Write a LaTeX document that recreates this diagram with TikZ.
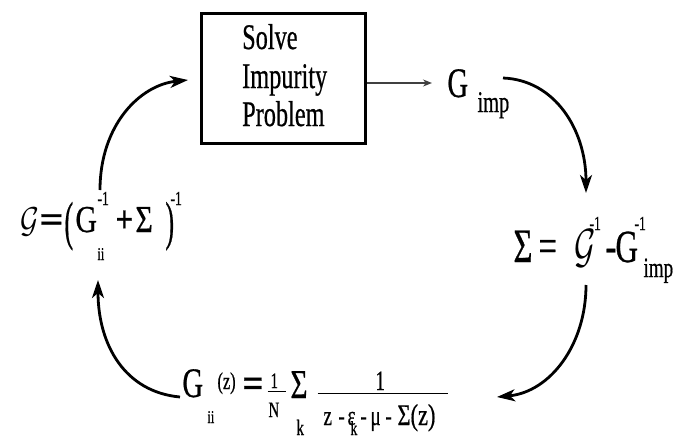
\documentclass[tikz,border=0pt]{standalone}
\usepackage{fontspec}
\setmainfont{Liberation Serif}[FakeBold=0.7]
\usetikzlibrary{arrows.meta}
\newcommand{\fs}[1]{\fontsize{#1}{#1}\selectfont}
\newcommand{\at}[3]{\rlap{\hspace*{#1pt}\raisebox{#2pt}{\scalebox{0.68}[1]{#3}}}}
\newcommand{\atrule}[4]{\rlap{\hspace*{#1pt}\raisebox{#2pt}{\rule{#3pt}{#4pt}}}}
\newcommand{\calG}[2]{\scalebox{#1}[#2]{\fontsize{10}{12}\selectfont$\mathcal{G}$}}
\begin{document}
\begin{tikzpicture}[x=1pt,y=-1pt,
  fm/.style={anchor=base west, inner sep=0pt, outer sep=0pt},
  boxtxt/.style={anchor=base west, inner sep=0pt, font=\fontsize{36}{36}\selectfont},
  cyc/.style={line width=2.8pt, -{Stealth[length=18pt,width=12pt,inset=5pt]}},
  feed/.style={line width=1.6pt, black!75, -{Stealth[length=9pt,width=7pt]}},
  probbox/.style={draw, line width=3.2pt, minimum width=164pt, minimum height=130pt, inner sep=0pt}
]
\path[use as bounding box] (0,0) rectangle (677,439);
% impurity solver box
\node[probbox] (prob) at (283.5,78.5) {};
\node[boxtxt] (t1) at (242,49) {\scalebox{0.675}[1]{Solve}};
\node[boxtxt] (t2) at (242,88) {\scalebox{0.675}[1]{Impurity}};
\node[boxtxt] (t3) at (242,126) {\scalebox{0.675}[1]{Problem}};
% G_imp
\node[fm] (gimp) at (447,97) {%
\at{0}{0}{\fs{42}G}%
\at{30}{-15}{\fs{30}imp}%
};
% Sigma = G^-1 - G_imp^-1
\node[fm] (sig) at (513,262) {%
\at{0}{0}{\fs{48}Σ}%
\at{25}{0}{\fs{48}=}%
\at{61}{0}{\calG{4.8}{4.8}}%
\at{76}{32}{\fs{20}-1}%
\at{92}{0}{\fs{48}-}%
\at{102}{0}{\fs{46}G}%
\at{121}{32}{\fs{20}-1}%
\at{130}{-15}{\fs{28}imp}%
};
% G = (G_ii^-1 + Sigma)^-1
\node[fm] (gdef) at (18,232) {%
\at{2}{0}{\calG{4.2}{3.6}}%
\at{21}{0}{\fs{38}\scalebox{1.63}[1]{\textbf{=}}}%
\at{46}{-7}{\fs{38}\scalebox{1}[1.4]{(}}%
\at{57}{0}{\fs{38}\scalebox{1.15}[1]{G}}%
\at{79}{27}{\fs{20}-1}%
\at{79}{-28}{\fs{18}ii}%
\at{97}{0}{\fs{38}\scalebox{1.2}[1]{\textbf{+}}}%
\at{117}{0}{\fs{38}\scalebox{1.15}[1]{Σ}}%
\at{147}{-7}{\fs{38}\scalebox{1}[1.4]{)}}%
\at{152}{27}{\fs{20}-1}%
};
% G_ii(z) = 1/N sum_k 1/(z - eps_k - mu - Sigma(z))
\node[fm] (gloc) at (182,397) {%
\at{0}{0}{\fs{42}G}%
\at{25}{-26}{\fs{18}ii}%
\at{35}{8}{\fs{24}(z)}%
\at{60}{0}{\fs{41}\scalebox{1.32}[1]{\textbf{=}}}%
\at{88}{9}{\fs{22}1}%
\atrule{85}{5}{18}{1}%
\at{86}{-20}{\fs{22}N}%
\at{108}{-1}{\fs{41}\scalebox{1.05}[1]{Σ}}%
\at{114}{-38}{\fs{22}k}%
\atrule{135}{3}{130}{1.5}%
\at{193}{7}{\fs{28}1}%
\at{141}{-28}{\fs{28}z}%
\at{156}{-28}{\fs{28}-}%
\at{165}{-28}{\fs{28}ε}%
\at{168}{-38}{\fs{20}k}%
\at{178}{-28}{\fs{28}-}%
\at{188}{-28}{\fs{28}μ}%
\at{203}{-28}{\fs{28}-}%
\at{215}{-28}{\fs{30}\scalebox{1.1}[1]{Σ(z)}}%
};
% connector end points
\coordinate (arrA) at (432,83);
\coordinate (c1s) at (100,190); \coordinate (c1e) at (188,80);
\coordinate (c2s) at (503,78);  \coordinate (c2e) at (586,193);
\coordinate (c3s) at (586,285); \coordinate (c3e) at (497,397);
\coordinate (c4s) at (180,397); \coordinate (c4e) at (98,280);
% connectors
\draw[feed] ([yshift=-4.5pt]prob.east) -- (arrA);
\draw[cyc] (c2s) .. controls (555,80) and (586,130) .. (c2e);
\draw[cyc] (c3s) .. controls (586,345) and (550,392) .. (c3e);
\draw[cyc] (c4s) .. controls (125,392) and (98,345) .. (c4e);
\draw[cyc] (c1s) .. controls (100,125) and (140,85) .. (c1e);
\end{tikzpicture}
\end{document}
